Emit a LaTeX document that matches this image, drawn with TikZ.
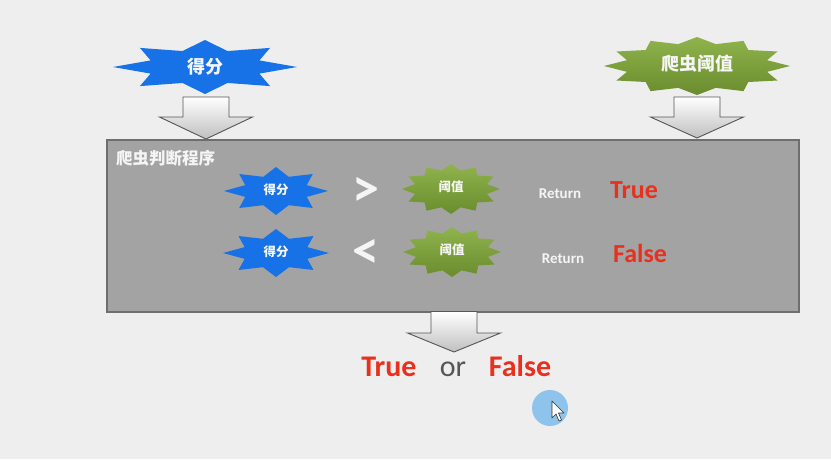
\documentclass[tikz,border=0pt]{standalone}
\usepackage{fontspec}
\setmainfont{Carlito}
\newfontfamily\cjk{Noto Sans CJK SC}
\definecolor{bgcol}{HTML}{EEEEEE}
\definecolor{starblue}{HTML}{1672E6}
\definecolor{greentop}{HTML}{8FB34C}
\definecolor{greenbot}{HTML}{6A8C2E}
\definecolor{boxfill}{HTML}{A3A3A3}
\definecolor{boxline}{HTML}{6E6E6E}
\definecolor{arrowline}{HTML}{555555}
\definecolor{redtxt}{HTML}{E8301F}
\definecolor{ortxt}{HTML}{555555}
\definecolor{cursorblue}{HTML}{8EC4EC}
\definecolor{softwhite}{HTML}{F5F5F5}
\tikzset{
  bluestar/.style={fill=starblue},
  greenstar/.style={top color=greentop, bottom color=greenbot},
  grayarrow/.style={top color=white, bottom color=black!25, draw=arrowline, line width=0.9pt, line join=miter},
  mainbox/.style={fill=boxfill, draw=boxline, line width=1.4pt},
  bigcjk/.style={text=softwhite, font=\fontsize{18}{20}\selectfont\cjk\bfseries},
  smallcjk/.style={text=softwhite, font=\fontsize{12.5}{14}\selectfont\cjk\bfseries},
  titlecjk/.style={text=softwhite, font=\fontsize{16.5}{18}\selectfont\cjk\bfseries, anchor=west, inner sep=0pt},
  cmptxt/.style={text=softwhite, font=\fontsize{54}{56}\selectfont\bfseries, anchor=base, inner sep=0pt},
  rettxt/.style={text=softwhite, font=\fontsize{15}{17}\selectfont\bfseries, anchor=base, inner sep=0pt},
  redin/.style={text=redtxt, font=\fontsize{26}{28}\selectfont\bfseries, anchor=base, inner sep=0pt},
  redout/.style={text=redtxt, font=\fontsize{30}{32}\selectfont\bfseries, anchor=base, inner sep=0pt},
  ortext/.style={text=ortxt, font=\fontsize{30}{32}\selectfont, anchor=base, inner sep=0pt},
}
% #1 style, #2 cx, #3 cy, #4 rx, #5 ry, #6 points, #7 inner ratio
\newcommand\mystar[7]{%
  \pgfmathtruncatemacro\nlast{2*#6-1}%
  \path[#1] plot[variable=\t, samples at={0,...,\nlast}]
    ({#2+#4*(1-(1-#7)*mod(\t,2))*cos(90+\t*180/#6)},
     {#3-#5*(1-(1-#7)*mod(\t,2))*sin(90+\t*180/#6)}) -- cycle;}
% #1 x, #2 top, #3 head top, #4 tip
\newcommand\blockarrow[4]{%
  \draw[grayarrow] (#1-23,#2) -- (#1+23,#2) -- (#1+23,#3) -- (#1+46.5,#3)
    -- (#1,#4) -- (#1-46.5,#3) -- (#1-23,#3) -- cycle;}
\begin{document}
\begin{tikzpicture}[x=1pt,y=-1pt]
\fill[bgcol] (0,0) rectangle (831,459);
\useasboundingbox (0,0) rectangle (831,459);

% top stars
\mystar{bluestar}{205}{67}{92}{27}{8}{0.64}
\node[bigcjk] (score) at (205,67) {得分};
\mystar{greenstar}{697}{66}{93}{29}{12}{0.78}
\node[bigcjk] (thresh) at (697,64) {爬虫阈值};

% top arrows
\blockarrow{206}{97}{117}{139}
\blockarrow{697}{97}{117}{138}

% program box
\draw[mainbox] (107,140) rectangle (799,312);
\node[titlecjk] (title) at (116,158) {爬虫判断程序};

% row 1
\mystar{bluestar}{276}{191}{52}{24}{8}{0.64}
\node[smallcjk] (s1) at (276,190) {得分};
\node[cmptxt] (gt) at (366,206) {>};
\mystar{greenstar}{451}{189}{49}{25}{12}{0.76}
\node[smallcjk] (t1) at (451,187) {阈值};
\node[rettxt] (r1) at (560,198) {Return};
\node[redin] (true1) at (634,198) {True};

% row 2
\mystar{bluestar}{276}{253}{53}{24}{8}{0.64}
\node[smallcjk] (s2) at (276,252) {得分};
\node[cmptxt] (lt) at (366,268) {<};
\mystar{greenstar}{452}{252}{49}{25}{12}{0.76}
\node[smallcjk] (t2) at (452,250) {阈值};
\node[rettxt] (r2) at (563,263) {Return};
\node[redin] (false1) at (640,262) {False};

% bottom arrow
\blockarrow{454}{311.5}{333}{352}

% result text
\node[redout] (rtrue) at (389,376) {True};
\node[ortext] (ror) at (453,376) {or};
\node[redout] (rfalse) at (520,376) {False};

% cursor highlight
\fill[cursorblue] (550,408) circle (18);
\draw[fill=white, draw=black!80, line width=0.6pt, line join=round]
  (552,401) -- (552,418) -- (556,414) -- (559,421) -- (561.5,420) -- (558.5,413) -- (564,413) -- cycle;
\end{tikzpicture}
\end{document}
